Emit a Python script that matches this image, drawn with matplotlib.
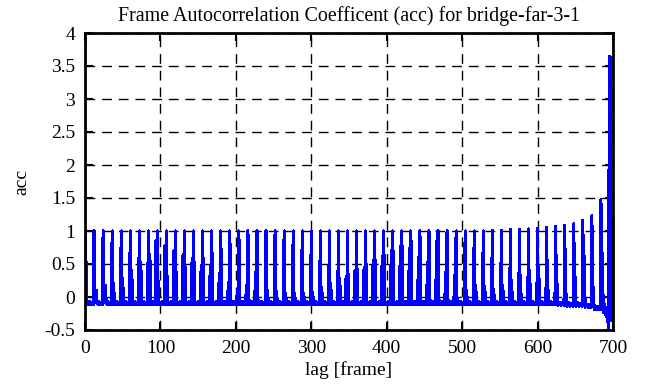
import matplotlib
matplotlib.use("Agg")
import matplotlib.pyplot as plt

# lags of the periodic (GOP) peaks and their heights
spike_lag = [0, 12, 24, 36, 48, 60, 72, 84, 96, 108, 120, 132, 144, 156, 168,
             180, 192, 204, 216, 228, 240, 252, 264, 276, 288, 300, 312, 324,
             336, 348, 360, 372, 384, 396, 408, 420, 432, 444, 456, 468, 480,
             492, 504, 516, 528, 540, 552, 564, 576, 588, 600, 612, 624, 636,
             648, 660, 672, 684, 696]
spike_acc = [1.0, 1.0, 1.0, 1.0, 1.0, 1.0, 1.0, 1.0, 1.0, 1.0, 1.0, 1.0, 1.0,
             1.0, 1.0, 1.0, 1.0, 1.0, 1.0, 1.0, 1.0, 1.0, 1.0, 1.0, 1.0, 1.0,
             1.0, 1.0, 1.0, 1.0, 1.0, 1.0, 1.0, 1.0, 1.0, 1.0, 1.0, 1.0, 1.0,
             1.0, 1.0, 1.0, 1.0, 1.0, 1.0, 1.01, 1.01, 1.02, 1.02, 1.03, 1.04,
             1.05, 1.07, 1.08, 1.11, 1.16, 1.23, 1.48, 3.65]

# side peak next to each main peak: offset (in lags) and height
side_off = [1, 3, 3, 2, 2, 2, 2, 2, -2, -2, -2, -2, -2, -2, -2, -2, -2, -2,
            -2, -2, 2, 2, 2, 2, 2, 2, 2, 2, 2, -2, -2, -2, -2, -2, -2, -2, -2,
            -2, -2, -2, -2, -2, 2, 2, 2, 2, 2, 2, 2, 2, 2, 2, 2, 2, 2, 2, 2, 2,
            -1]
side_acc = [0.78, 0.10, 0.18, 0.20, 0.28, 0.40, 0.52, 0.64, 0.85, 0.78, 0.70,
            0.64, 0.58, 0.48, 0.46, 0.35, 0.22, 0.12, 0.18, 0.38, 0.10, 0.08,
            0.06, 0.05, 0.06, 0.05, 0.10, 0.14, 0.18, 0.28, 0.40, 0.45, 0.56,
            0.62, 0.70, 0.76, 0.74, 0.60, 0.52, 0.84, 0.38, 0.33, 0.10, 0.18,
            0.16, 0.08, 0.12, 0.10, 0.05, 0.20, 0.28, 0.10, 0.20, 0.05, 0.30,
            0.62, 0.15, 0.66, 2.74]

# floor between peaks (lags +1 .. +11) and its drift per period
floor_acc = [-0.02, -0.09, -0.12, -0.08, -0.11, -0.07, -0.12, -0.09, -0.11,
             -0.08, -0.12]
floor_shift = [0.0] * 52 + [-0.01, -0.02, -0.02, -0.04, -0.07, -0.12, -0.18]

# last few lags
tail_lag = [689, 691, 692, 693, 694, 697, 698]
tail_acc = [-0.12, -0.3, -0.18, -0.3, -0.5, 1.82, -0.35]

acc = {}
for k, L in enumerate(spike_lag):
    acc[L] = spike_acc[k]
    for j, v in enumerate(floor_acc, start=1):
        if L + j <= 698:
            acc[L + j] = v + floor_shift[k]
for k, L in enumerate(spike_lag):
    acc[L + side_off[k]] = side_acc[k]
for L, v in zip(tail_lag, tail_acc):
    acc[L] = v

lags = sorted(x for x in acc if 0 <= x <= 698)
vals = [acc[x] for x in lags]

plt.rcParams['font.family'] = ['Liberation Serif', 'DejaVu Serif']

fig = plt.figure(figsize=(6.46, 3.87), dpi=100)
ax = fig.add_axes([85 / 646, 1 - 330 / 387, 528 / 646, 297 / 387])

# gnuplot-like aliased line so the thin spikes show as solid bars
ax.plot(lags, vals, color='#0000ff', linewidth=1.5, antialiased=False)

ax.set_xlim(0, 700)
ax.set_ylim(-0.5, 4)
ax.set_xticks([0, 100, 200, 300, 400, 500, 600, 700])
ax.set_yticks([-0.5, 0, 0.5, 1, 1.5, 2, 2.5, 3, 3.5, 4])
ax.set_yticklabels(['-0.5', '0', '0.5', '1', '1.5', '2', '2.5', '3', '3.5', '4'])
ax.grid(True, color='black', linestyle=(0, (7, 5)), linewidth=1.0)
ax.set_axisbelow(True)
ax.tick_params(direction='in', length=6, width=1.5, labelsize=14,
               top=True, right=True, pad=7)
for s in ax.spines.values():
    s.set_linewidth(2)

ax.set_title('Frame Autocorrelation Coefficent (acc) for bridge-far-3-1',
             fontsize=14.4, pad=9)
ax.set_xlabel('lag [frame]', fontsize=14, labelpad=3)
ax.set_ylabel('acc', fontsize=14, labelpad=10)

fig.savefig('out.png', dpi=100)
